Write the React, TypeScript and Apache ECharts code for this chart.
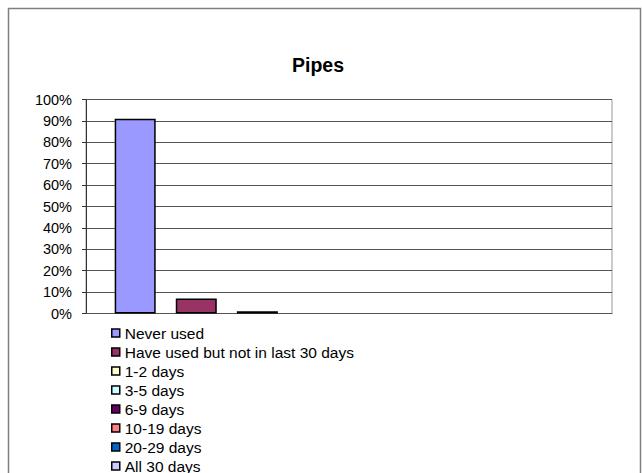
import React, { useEffect, useRef } from "react";
import * as echarts from "echarts";

const categories = ["Pipes"];
const seriesNames = [
  "Never used",
  "Have used but not in last 30 days",
  "1-2 days",
  "3-5 days",
  "6-9 days",
  "10-19 days",
  "20-29 days",
  "All 30 days",
];
const seriesValues = [91, 7, 1, 0, 0, 0, 0, 0];
const seriesColors = [
  "#9999FF",
  "#993366",
  "#FFFFCC",
  "#CCFFFF",
  "#660066",
  "#FF8080",
  "#0066CC",
  "#CCCCFF",
];
const yTicks = { min: 0, max: 100, interval: 10 };

const FONT = "'Liberation Sans', Arial, sans-serif";

export default function App() {
  const ref = useRef<HTMLDivElement>(null);
  useEffect(() => {
    if (!ref.current) return;
    const chart = echarts.init(ref.current, undefined, { renderer: "svg" });
    chart.setOption({
      animation: false,
      backgroundColor: "#ffffff",
      title: {
        text: "Pipes",
        left: 318,
        textAlign: "center",
        top: 55,
        padding: 0,
        textStyle: { fontFamily: FONT, fontSize: 19.5, fontWeight: "bold", color: "#000" },
      },
      graphic: [
        {
          type: "rect",
          shape: { x: 8.5, y: 8.5, width: 632, height: 560 },
          style: { fill: "none", stroke: "#808080", lineWidth: 1.5 },
          silent: true,
          z: -1,
        },
      ],
      legend: {
        orient: "vertical",
        left: 111,
        top: 324.5,
        padding: 0,
        itemWidth: 8,
        itemHeight: 8,
        itemGap: 2,
        icon: "rect",
        data: seriesNames,
        textStyle: {
          fontFamily: FONT,
          fontSize: 15.5,
          color: "#000",
          lineHeight: 17,
        },
        itemStyle: { borderColor: "#000", borderWidth: 1.5 },
      },
      grid: {
        left: 86,
        right: 30,
        top: 99.5,
        height: 214,
        show: true,
        borderColor: "#999",
        borderWidth: 1,
        backgroundColor: "transparent",
      },
      xAxis: {
        type: "category",
        data: categories,
        axisLine: { lineStyle: { color: "#555", width: 1 } },
        axisTick: { show: false },
        axisLabel: { show: false },
      },
      yAxis: {
        type: "value",
        min: yTicks.min,
        max: yTicks.max,
        interval: yTicks.interval,
        axisLine: { show: true, lineStyle: { color: "#333", width: 1 } },
        axisTick: { show: true, length: 4, lineStyle: { color: "#333" } },
        axisLabel: {
          formatter: "{value}%",
          fontFamily: FONT,
          fontSize: 14.5,
          color: "#000",
          margin: 14,
        },
        splitLine: { lineStyle: { color: "#555", width: 1 } },
      },
      series: seriesNames.map((name, i) => ({
        name,
        type: "bar",
        data: [
          {
            value: seriesValues[i],
            itemStyle: seriesValues[i] === 0 ? { borderWidth: 0 } : undefined,
          },
        ],
        barWidth: 41,
        barGap: "49%",
        itemStyle: { color: seriesColors[i], borderColor: "#000", borderWidth: 1.5 },
      })),
    });
    return () => chart.dispose();
  }, []);
  return (
    <div
      ref={ref}
      style={{ position: "fixed", left: 0, top: 0, width: 642, height: 600 }}
    />
  );
}
